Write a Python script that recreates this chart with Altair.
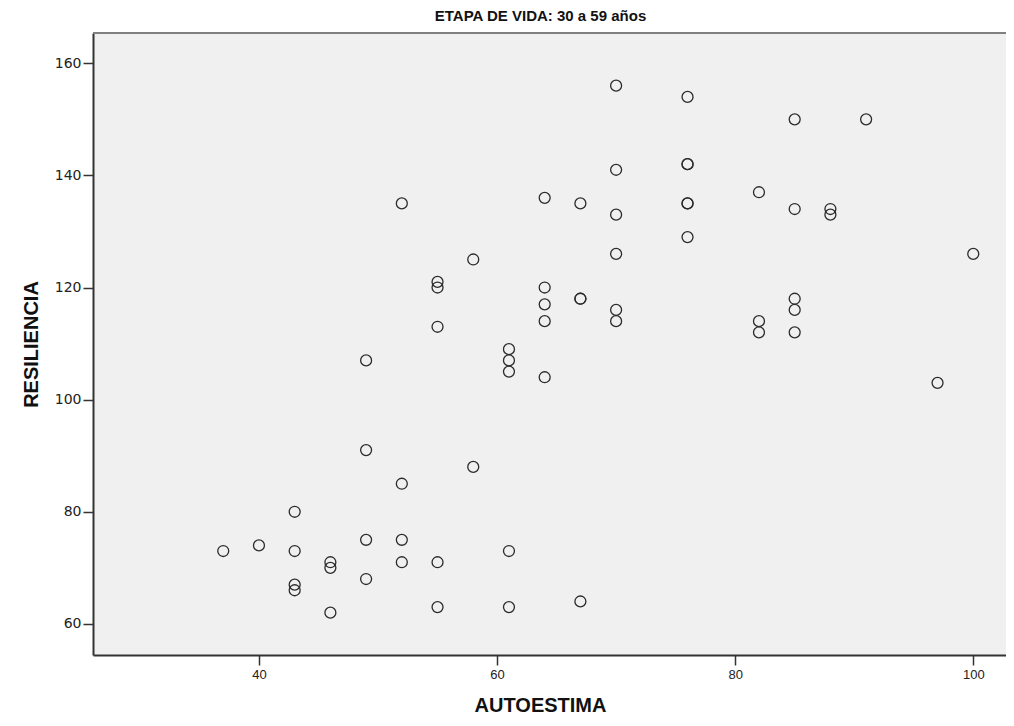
import altair as alt
import pandas as pd

autoestima = [52, 64, 67, 58, 55, 55, 64, 67, 67, 64, 64, 55, 61, 61, 61, 49, 64,
              70, 76, 85, 91, 70, 76, 76, 82, 85, 88, 88, 70, 76, 76, 76, 70, 100,
              70, 70, 82, 82, 85, 85, 85, 97,
              49, 58, 52, 43, 49, 52, 37, 40, 43, 61, 46, 46, 52, 55, 49, 43, 43,
              46, 55, 61, 67]
resiliencia = [135, 136, 135, 125, 121, 120, 120, 118, 118, 117, 114, 113, 109, 107, 105, 107, 104,
               156, 154, 150, 150, 141, 142, 142, 137, 134, 134, 133, 133, 135, 135, 129, 126, 126,
               116, 114, 114, 112, 118, 116, 112, 103,
               91, 88, 85, 80, 75, 75, 73, 74, 73, 73, 71, 70, 71, 71, 68, 67, 66,
               62, 63, 63, 64]

x_ticks = [40, 60, 80, 100]
y_ticks = [60, 80, 100, 120, 140, 160]

df = pd.DataFrame({"AUTOESTIMA": autoestima, "RESILIENCIA": resiliencia})

x_scale = alt.Scale(domain=[26.06, 102.75], nice=False, zero=False)
y_scale = alt.Scale(domain=[54.45, 165.4], nice=False, zero=False)

PLOT_W = 913
PLOT_H = 622
SANS = "Liberation Sans, Arial, Helvetica, sans-serif"
WIDE = "DejaVu Sans, Verdana, sans-serif"

points = alt.Chart(df).mark_point(
    shape="circle", filled=False, size=120, stroke="#2b2b2b", strokeWidth=1.3, opacity=1
).encode(
    x=alt.X("AUTOESTIMA:Q", scale=x_scale,
            axis=alt.Axis(values=x_ticks, title="AUTOESTIMA", grid=False,
                          domainColor="#333333", domainWidth=2, tickColor="#333333",
                          tickWidth=1.5, tickSize=10, labelFont=SANS,
                          labelFontSize=13, labelColor="#222222", labelPadding=3,
                          titleFont=SANS, titleFontSize=20, titleX=447,
                          titleFontWeight="bold", titleColor="#111111", titlePadding=14)),
    y=alt.Y("RESILIENCIA:Q", scale=y_scale,
            axis=alt.Axis(values=y_ticks, title="RESILIENCIA", grid=False,
                          domainColor="#333333", domainWidth=2, tickColor="#333333",
                          tickWidth=1.5, tickSize=10, labelFont=WIDE,
                          labelFontSize=14, labelColor="#222222", labelPadding=2,
                          titleFont=SANS, titleFontSize=20,
                          titleFontWeight="bold", titleColor="#111111", titlePadding=13)),
)

top_border = alt.Chart(pd.DataFrame({"k": [0]})).mark_rule(
    color="#808080", strokeWidth=2
).encode(
    x=alt.value(0), x2=alt.value(PLOT_W), y=alt.value(0)
)

chart = alt.layer(points, top_border).properties(
    width=PLOT_W,
    height=PLOT_H,
    autosize=alt.AutoSizeParams(type="none"),
    padding={"left": 85, "top": 25, "right": 0, "bottom": 65},
    background="white",
    title=alt.TitleParams(
        "ETAPA DE VIDA: 30 a 59 años", font=SANS, fontSize=15,
        fontWeight="bold", color="#111111", anchor="middle", offset=8, dx=-9
    ),
).configure_view(
    fill="#F0F0F0", strokeWidth=0
)

chart.save("out.html", embed_options={"renderer": "svg", "actions": False})
